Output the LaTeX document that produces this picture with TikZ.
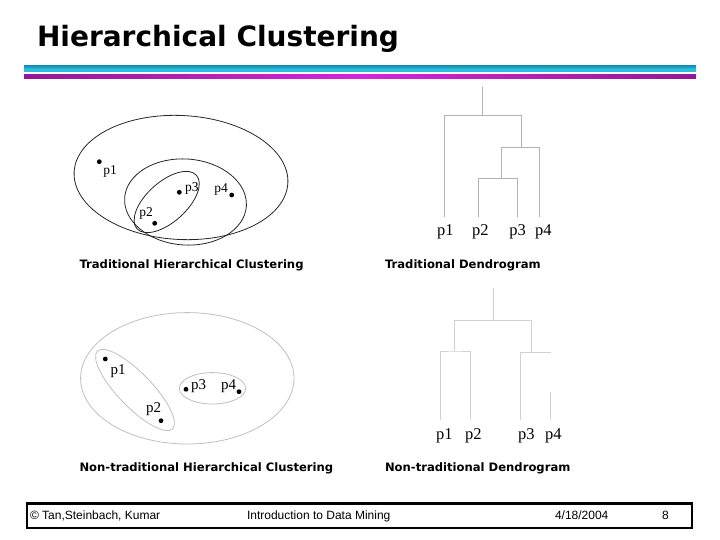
\documentclass[tikz,border=0pt]{standalone}
\usepackage{fontspec}
\setmainfont{Liberation Serif}
\newfontfamily\verdana{DejaVu Sans}
\newfontfamily\arial{Liberation Sans}
\definecolor{barcyan}{RGB}{45,192,222}
\definecolor{barteal}{RGB}{25,150,182}
\definecolor{barpink}{RGB}{212,38,214}
\definecolor{barpurple}{RGB}{145,26,150}
\begin{document}
\begin{tikzpicture}[x=1pt, y=-1pt, line join=miter,
	every node/.style={inner sep=0pt, outer sep=0pt},
	dendro/.style={draw=black!30, line width=0.8pt},
	dendrolight/.style={draw=black!18, line width=0.9pt},
	clus/.style={draw=black!85, line width=0.8pt},
	cluslight/.style={draw=black!25, line width=0.8pt},
	dot/.style={circle, fill=black, minimum size=4.8pt},
	plabel/.style={font=\fontsize{13.5}{15}\selectfont, anchor=base west},
	plabelbig/.style={font=\fontsize{15}{17}\selectfont, anchor=base west},
	leaf/.style={font=\fontsize{16.5}{18}\selectfont, anchor=base west},
	caption/.style={font=\verdana\bfseries\fontsize{11.6}{14}\selectfont, anchor=base west},
	foot/.style={font=\arial\fontsize{12}{14}\selectfont, anchor=base west}]
	
	\useasboundingbox (0,0) rectangle (720,540);
	
	% Tieu de
	\node[font=\verdana\bfseries\fontsize{28}{32}\selectfont, anchor=base west] (title) at (37, 46.7) {Hierarchical Clustering};
	\shade[top color=barteal, bottom color=barcyan, middle color=barcyan] (24, 66) rectangle (696, 72);
	\shade[left color=barpurple, right color=barpurple, middle color=barpink] (24, 75) rectangle (696, 79);
	
	% Phan cum truyen thong
	\draw[clus, rotate around={-3:(181, 177.5)}] (181, 177.5) ellipse [x radius=107, y radius=62];
	\draw[clus, rotate around={-4:(185.5, 202)}] (185.5, 202) ellipse [x radius=61, y radius=43];
	\draw[clus, rotate around={42:(166.7, 202)}] (166.7, 202) ellipse [x radius=40, y radius=20];
	\node[dot] (a1) at (99.3, 161.7) {};
	\node[dot] (a2) at (154.7, 223.3) {};
	\node[dot] (a3) at (179.3, 192.3) {};
	\node[dot] (a4) at (231.7, 195) {};
	\node[plabel] (la1) at (103.3, 175) {p1};
	\node[plabel] (la2) at (139.3, 216) {p2};
	\node[plabel] (la3) at (185, 191.5) {p3};
	\node[plabel] (la4) at (214.3, 192.3) {p4};
	\node[caption] (capa) at (79.5, 268.3) {Traditional Hierarchical Clustering};
	
	% Dendrogram truyen thong
	\coordinate (t1) at (444.3, 216.7);
	\coordinate (t2) at (478.7, 216.7);
	\coordinate (t3) at (517, 216.7);
	\coordinate (t4) at (539.3, 216.7);
	\coordinate (t23) at (501.7, 178.3);
	\coordinate (t234) at (521, 147.3);
	\coordinate (troot) at (482.3, 115.7);
	\coordinate (ttop) at (482.3, 87);
	\draw[dendro] (t2) |- (t23) -| (t3);
	\draw[dendro] (t23) |- (t234) -| (t4);
	\draw[dendro] (t1) |- (troot) -| (t234);
	\draw[dendro] (troot) -- (ttop);
	\node[leaf] (lt1) at (437, 236) {p1};
	\node[leaf] (lt2) at (472, 236) {p2};
	\node[leaf] (lt3) at (509.3, 236) {p3};
	\node[leaf] (lt4) at (535, 236) {p4};
	\node[caption] (capb) at (385, 268.3) {Traditional Dendrogram};
	
	% Phan cum khong truyen thong
	\draw[cluslight] (187.3, 378.3) ellipse [x radius=106.7, y radius=65.7];
	\draw[cluslight, rotate around={-46:(135, 390)}] (135, 390) ellipse [x radius=54, y radius=17];
	\draw[cluslight] (212.5, 388.3) ellipse [x radius=33.2, y radius=15.7];
	\node[dot] (b1) at (105.3, 359) {};
	\node[dot] (b2) at (161, 420.7) {};
	\node[dot] (b3) at (186, 389.3) {};
	\node[dot] (b4) at (239, 391.7) {};
	\node[plabelbig] (lb1) at (110.7, 374) {p1};
	\node[plabelbig] (lb2) at (146, 412.7) {p2};
	\node[plabelbig] (lb3) at (191, 389.3) {p3};
	\node[plabelbig] (lb4) at (221, 389.3) {p4};
	\node[caption] (capc) at (79.5, 471) {Non-traditional Hierarchical Clustering};
	
	% Dendrogram khong truyen thong
	\coordinate (d1) at (440, 420);
	\coordinate (d2) at (470, 420);
	\coordinate (d3) at (520.7, 420);
	\coordinate (d4) at (550.5, 420);
	\coordinate (d4top) at (550.5, 391.7);
	\coordinate (d12) at (454.3, 351);
	\coordinate (d34) at (531, 352.7);
	\coordinate (d34end) at (550.5, 352.7);
	\coordinate (droot) at (493.3, 320.7);
	\coordinate (dtop) at (493.3, 288.3);
	\draw[dendrolight] (d1) |- (d12) -| (d2);
	\draw[dendrolight] (d3) |- (d34end);
	\draw[dendrolight] (d4) -- (d4top);
	\draw[dendrolight] (d12) |- (droot) -| (d34);
	\draw[dendrolight] (droot) -- (dtop);
	\node[leaf] (ld1) at (436, 439) {p1};
	\node[leaf] (ld2) at (465, 439) {p2};
	\node[leaf] (ld3) at (518, 439) {p3};
	\node[leaf] (ld4) at (545, 439) {p4};
	\node[caption] (capd) at (385, 471) {Non-traditional Dendrogram};
	
	% Chan trang
	\draw[line width=2.5pt] (27, 503.5) rectangle (692, 528);
	\node[foot] (ftl) at (30, 519.3) {© Tan,Steinbach, Kumar};
	\node[foot] (ftm) at (247, 519.3) {Introduction to Data Mining};
	\node[foot] (ftr) at (555, 519.3) {4/18/2004};
	\node[foot] (ftn) at (662, 519.3) {8};
\end{tikzpicture}
\end{document}
